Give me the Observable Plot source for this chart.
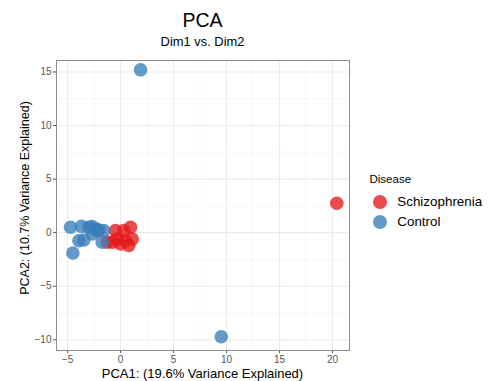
<!DOCTYPE html>
<html><head><meta charset="utf-8">
<script src="https://cdn.jsdelivr.net/npm/d3@7"></script>
<script src="https://cdn.jsdelivr.net/npm/@observablehq/plot@0.6"></script>
<style>
body{margin:0;background:#fff;font-family:"Liberation Sans",Arial,sans-serif;}
#wrap{position:relative;width:492px;height:381px;}
.t{position:absolute;white-space:nowrap;color:#000;line-height:1;}
</style></head>
<body><div id="wrap"></div>
<script>
const groups = ["Schizophrenia","Control"];
const colors = ["#E41A1C","#377EB8"];
const controlX = [1.89, 9.5, -4.72, -3.68, -4.5, -3.93, -3.46, -2.99, -2.67, -2.36, -2.04, -2.67, -1.57, -1.73];
const controlY = [15.2, -9.72, 0.5, 0.59, -1.9, -0.75, -0.68, 0.5, 0.56, 0.35, 0.25, -0.12, 0.19, -0.9];
const schizX = [20.4, 0.94, -0.47, 0.31, -0.78, 0, 0.78, 1.1, -0.3, -2.2, -1.25, 0.47];
const schizY = [2.74, 0.5, 0.19, 0.19, -0.9, -1.06, -1.2, -0.6, -0.6, 0.19, -0.9, -0.75];
const xTicks = [-5, 0, 5, 10, 15, 20];
const yTicks = [-10, -5, 0, 5, 10, 15];
const xMinor = [-2.5, 2.5, 7.5, 12.5, 17.5];
const yMinor = [-7.5, -2.5, 2.5, 7.5, 12.5];

const data = [
  ...schizX.map((x, i) => ({x, y: schizY[i], g: "Schizophrenia"})),
  ...controlX.map((x, i) => ({x, y: controlY[i], g: "Control"}))
];

const plot = Plot.plot({
  width: 492, height: 381,
  marginLeft: 56, marginRight: 143, marginTop: 60, marginBottom: 31,
  style: {fontFamily: '"Liberation Sans", Arial, sans-serif', fontSize: "10px", background: "transparent"},
  x: {domain: [-6.04, 21.6], label: null},
  y: {domain: [-11.0, 16.07], label: null},
  color: {domain: groups, range: colors},
  marks: [
    Plot.ruleX(xMinor, {stroke: "#f2f2f2", strokeWidth: 0.6}),
    Plot.ruleY(yMinor, {stroke: "#f2f2f2", strokeWidth: 0.6}),
    Plot.ruleX(xTicks, {stroke: "#ebebeb", strokeWidth: 1.1}),
    Plot.ruleY(yTicks, {stroke: "#ebebeb", strokeWidth: 1.1}),
    Plot.axisX({ticks: xTicks, tickSize: 3, tickPadding: 2, color: "#555", fontSize: 10, label: null}),
    Plot.axisY({ticks: yTicks, tickSize: 3, tickPadding: 2, color: "#555", fontSize: 10, label: null}),
    Plot.dot(data, {x: "x", y: "y", fill: "g", r: 6.8, fillOpacity: 0.78}),
    Plot.frame({stroke: "#8c8c8c", strokeWidth: 1})
  ]
});
const wrap = document.getElementById("wrap");
wrap.appendChild(plot);

function addText(txt, left, top, size, extra) {
  const d = document.createElement("div");
  d.className = "t";
  d.textContent = txt;
  d.style.left = left + "px"; d.style.top = top + "px"; d.style.fontSize = size + "px";
  if (extra) Object.assign(d.style, extra);
  wrap.appendChild(d);
  return d;
}
addText("PCA", 202.5, 11, 19.5, {transform: "translateX(-50%)"});
addText("Dim1 vs. Dim2", 202.5, 35.8, 12.9, {transform: "translateX(-50%)"});
addText("PCA1: (19.6% Variance Explained)", 202.5, 366.5, 13, {transform: "translateX(-50%)"});
addText("PCA2: (10.7% Variance Explained)", 25, 197.5, 12.5, {transform: "translate(-50%,-50%) rotate(-90deg)"});
addText("Disease", 369.5, 174.3, 11.5);
groups.forEach((g, i) => {
  const y = 201.7 + i * 20;
  const c = document.createElement("div");
  c.style.cssText = `position:absolute;left:${380-7.2}px;top:${y-7.2}px;width:14.4px;height:14.4px;border-radius:50%;background:${colors[i]};opacity:0.78`;
  wrap.appendChild(c);
  addText(g, 397.3, 194.7 + i * 20, 13.4);
});
</script></body></html>
